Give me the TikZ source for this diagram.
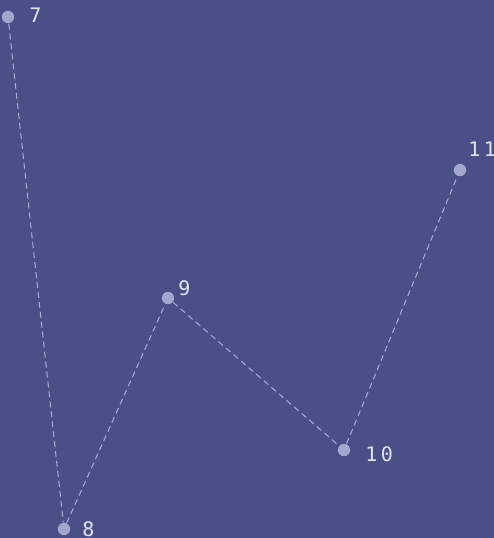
\documentclass[tikz,border=0pt]{standalone}
\usepackage{fontspec}
\setmonofont{DejaVu Sans Mono}
\usetikzlibrary{positioning}
\definecolor{BgBlue}{HTML}{4A4F87}
\definecolor{DotGray}{HTML}{A3A6CE}
\definecolor{LineGray}{HTML}{ABAECF}
\definecolor{TextGray}{HTML}{E2E3EE}
\tikzset{
  pt/.style={circle, fill=DotGray, inner sep=0pt, minimum size=6.2pt},
  num/.style={anchor=west, font=\ttfamily\fontsize{10}{11}\selectfont, text=TextGray, inner sep=0pt},
  link/.style={dashed, dash pattern=on 3pt off 2pt, draw=LineGray, line width=0.5pt}
}
\begin{document}
\begin{tikzpicture}[x=0.5pt, y=-0.5pt]
  \fill[BgBlue] (0,0) rectangle (494,538);
  \useasboundingbox (0,0) rectangle (494,538);

  \node[pt] (p7) at (8,17) {};
  \node[pt] (p8) at (64,529) {};
  \node[pt] (p9) at (168,298) {};
  \node[pt] (p10) at (344,450) {};
  \node[pt] (p11) at (460,170) {};

  \node[num] (n7) at (29,15) {7};
  \node[num] (n8) at (82,529) {8};
  \node[num] (n9) at (178,288) {9};
  \node[num] (n10) at (365,454) {1\,0};
  \node[num] (n11) at (468,149) {1\,1};

  \draw[link] (p7) -- (p8);
  \draw[link] (p8) -- (p9);
  \draw[link] (p9) -- (p10);
  \draw[link] (p10) -- (p11);
\end{tikzpicture}
\end{document}
